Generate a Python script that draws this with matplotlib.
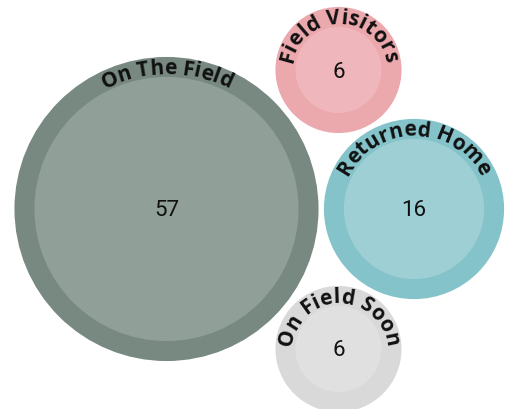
import numpy as np
import matplotlib
matplotlib.use("Agg")
import matplotlib.pyplot as plt
from matplotlib.patches import Circle

# dados
categorias = ["On The Field", "Field Visitors", "Returned Home", "On Field Soon"]
valores = [57, 6, 16, 6]

# layout (pixels, y para cima)
centros_x = [166.5, 338.5, 414, 338.5]
centros_y = [200, 339, 200, 60]
cor_borda = ["#788982", "#eba8ad", "#84c3c9", "#d9d9d9"]
cor_dentro = ["#919f99", "#efb7bc", "#9dcfd4", "#e0e0e0"]

W, H, DPI = 506, 410, 100
fig = plt.figure(figsize=(W / DPI, H / DPI), dpi=DPI)
ax = fig.add_axes([0, 0, 1, 1])
ax.set_xlim(0, W)
ax.set_ylim(0, H)
ax.set_aspect("equal")
ax.axis("off")

rend = fig.canvas.get_renderer()
fonte_rotulo = dict(family=["Open Sans", "DejaVu Sans"], weight="bold", fontsize=15)
espaco = 0.0  # espaçamento extra entre letras (px)


def largura(s):
    t = ax.text(0, 0, s, **fonte_rotulo)
    w = t.get_window_extent(rend).width
    t.remove()
    return w


def texto_curvo(s, cx, cy, R):
    total = largura(s) + espaco * (len(s) - 1)
    for i, ch in enumerate(s):
        if ch == " ":
            continue
        antes = largura(s[:i]) if i > 0 else 0
        pos = antes + espaco * i + largura(ch) / 2
        ang = np.pi / 2 - (pos - total / 2) / R
        x = cx + R * np.cos(ang)
        y = cy + R * np.sin(ang)
        ax.text(x, y, ch, rotation=np.degrees(ang) - 90, rotation_mode="anchor",
                ha="center", va="baseline", color="#111111", **fonte_rotulo)


for nome, v, cx, cy, c1, c2 in zip(categorias, valores, centros_x, centros_y, cor_borda, cor_dentro):
    r = 20.3 + 17.45 * np.sqrt(v)
    ax.add_patch(Circle((cx, cy), r, color=c1, lw=0))
    ax.add_patch(Circle((cx, cy), r - 20, color=c2, lw=0))
    ax.text(cx, cy - 1, str(v), ha="center", va="center", fontsize=16,
            family=["Roboto", "DejaVu Sans"], color="#111111")
    texto_curvo(nome, cx, cy, r - 16)

fig.savefig("out.png", dpi=DPI)
